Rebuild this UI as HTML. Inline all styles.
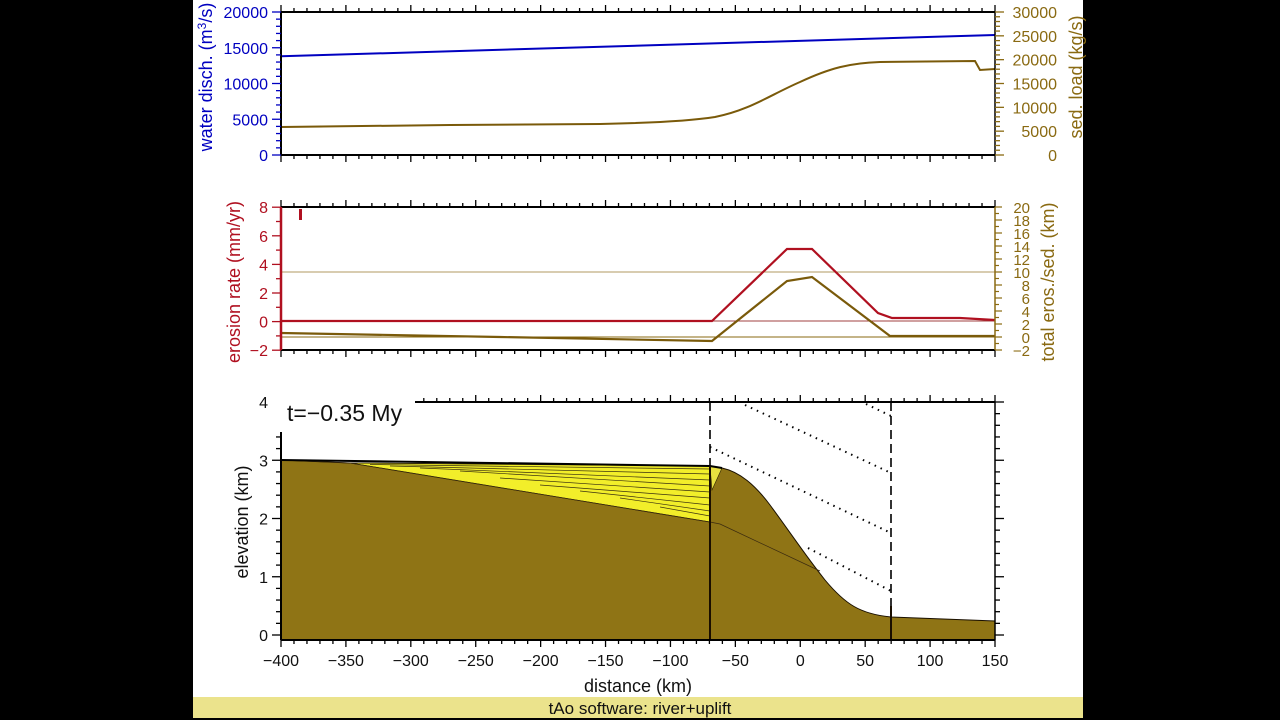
<!DOCTYPE html>
<html><head><meta charset="utf-8"><style>
html,body{margin:0;padding:0;background:#000;width:1280px;height:720px;overflow:hidden}
svg{display:block}
text{font-family:"Liberation Sans",sans-serif}
</style></head><body>
<svg id="s" width="1280" height="720" xmlns="http://www.w3.org/2000/svg">
<rect x="0" y="0" width="1280" height="720" fill="#000"/>
<rect x="193" y="0" width="890" height="697" fill="#fff"/>
<rect x="193" y="697" width="890" height="21" fill="#ebe38c"/>
<text x="640" y="714" font-size="17" text-anchor="middle" fill="#111">tAo software: river+uplift</text>

<!-- bottom panel terrain -->
<path d="M281,460 L350,463 L710,466 L722,468 C740,472 755,485 770,505 C790,532 805,555 825,580 C845,604 860,614 891,617 L995,621 L995,640 L281,640 Z" fill="#8f7415" stroke="#1a1000" stroke-width="1"/>
<path d="M350,463 L710,466 L710,522 Z" fill="#f2ee2a" stroke="#2a2000" stroke-width="0.8"/>
<path d="M710,466 L722,468 L712,490 Z" fill="#e8e040" stroke="#2a2000" stroke-width="0.6"/>
<g stroke="#3a3010" stroke-width="0.7" fill="none">
<path d="M370,464.5 L710,469"/><path d="M390,466 L710,474"/><path d="M420,468 L710,480"/><path d="M460,471 L710,486"/><path d="M500,478 L710,492"/><path d="M540,485 L710,498"/><path d="M580,491 L710,505"/><path d="M620,498 L710,511"/><path d="M660,507 L710,516"/>
<path d="M281,460 L350,463 L710,522 L720,524 L820,571" stroke="#3a2a10"/>
</g>
<path d="M281,460 L710,466 L722,468" stroke="#000" stroke-width="2" fill="none"/>
<line x1="710" y1="466" x2="710" y2="640" stroke="#1a0e00" stroke-width="2"/>
<line x1="891" y1="606" x2="891" y2="640" stroke="#1a0e00" stroke-width="2"/>
<g stroke="#000" stroke-width="1.6" stroke-dasharray="9,5" fill="none">
<line x1="710" y1="402" x2="710" y2="466"/><line x1="891" y1="402" x2="891" y2="606"/>
</g>
<g stroke="#000" stroke-width="2" stroke-dasharray="1.5,5" fill="none">
<line x1="745" y1="405" x2="891" y2="473"/><line x1="710" y1="447" x2="891" y2="533"/>
<line x1="808" y1="548" x2="891" y2="591"/><line x1="866" y1="404" x2="891" y2="416"/>
</g>
<rect x="278" y="390" width="138" height="40" fill="#fff"/>
<text x="287" y="421" font-size="23" fill="#111">t=−0.35 My</text>

<!-- top panel series -->
<line x1="281" y1="56.3" x2="995" y2="35" stroke="#0000c0" stroke-width="2"/>
<path d="M281,127 L450,125 L600,124 C650,123 690,121 715,117 C750,110 770,95 800,82 C830,68 850,63 880,62 L975,61 L980,70 L995,69" stroke="#7a5a0a" stroke-width="2" fill="none"/>

<!-- middle panel series -->
<line x1="281" y1="272" x2="995" y2="272" stroke="#b09a60" stroke-width="1"/>
<line x1="281" y1="321" x2="995" y2="321" stroke="#a04040" stroke-width="1"/>
<line x1="281" y1="337" x2="995" y2="337" stroke="#8a6a12" stroke-width="1"/>
<path d="M281,321 L712,321 L787,249 L812,249 L878,313 L892,318 L960,318 L995,320" stroke="#b01020" stroke-width="2.2" fill="none"/>
<path d="M281,333 L500,337 L712,341 L787,281 L812,277 L890,336 L995,336" stroke="#7a5a0a" stroke-width="2.2" fill="none"/>
<rect x="299" y="209" width="3" height="11" fill="#b01020"/>

<g id="ax"></g>

<text transform="translate(212,77) rotate(-90)" font-size="18" text-anchor="middle" fill="#0000c0">water disch. (m<tspan font-size="12" dy="-6">3</tspan><tspan dy="6">/s)</tspan></text>
<text transform="translate(1082,77) rotate(-90)" font-size="18" text-anchor="middle" fill="#8a6a12">sed. load (kg/s)</text>
<text transform="translate(240,282) rotate(-90)" font-size="18" text-anchor="middle" fill="#b01020">erosion rate (mm/yr)</text>
<text transform="translate(1054,282) rotate(-90)" font-size="18" text-anchor="middle" fill="#8a6a12">total eros./sed. (km)</text>
<text transform="translate(248,522) rotate(-90)" font-size="18" text-anchor="middle" fill="#111">elevation (km)</text>
<text x="638" y="692" font-size="18" text-anchor="middle" fill="#111">distance (km)</text>
</svg>
<script>
var g=document.getElementById('ax'),h='';
function L(x1,y1,x2,y2,c,w){h+='<line x1="'+x1+'" y1="'+y1+'" x2="'+x2+'" y2="'+y2+'" stroke="'+c+'" stroke-width="'+(w||1.5)+'"/>';}
function T(x,y,t,c,a,s){h+='<text x="'+x+'" y="'+y+'" font-size="'+(s||16)+'" fill="'+c+'" text-anchor="'+a+'">'+t+'</text>';}
var X=function(d){return 281+(d+400)*714/550;};
function xt(y,dir,lab){for(var d=-400;d<=150;d+=10){var m=d%50==0;L(X(d),y,X(d),y+dir*(m?7:4),'#000',1.3);if(lab&&m)T(X(d),y+26,String(d).replace('-','−'),'#111','middle',16);}}
// top panel
L(281,12,995,12,'#000',2);L(281,155,995,155,'#000',2);
L(281,12,281,155,'#000',2);L(995,12,995,155,'#000',1.5);
xt(12,-1);xt(155,1);
for(var v=0;v<=20000;v+=1000){var y=155-v/20000*143;var m=v%5000==0;L(281,y,281-(m?9:5),y,'#0000c0',1.3);if(m)T(268,y+6,v,'#0000c0','end',16);}
for(var v=0;v<=30000;v+=1000){var y=155-v/30000*143;var m=v%5000==0;L(995,y,995+(m?9:5),y,'#8a6a12',1.3);if(m)T(1057,y+6,v,'#8a6a12','end',16);}
// middle panel
L(281,207,995,207,'#000',2);L(281,350,995,350,'#000',2);L(281,207,281,350,'#b01020',2.5);L(995,207,995,350,'#8a6a12',1.5);
xt(207,-1);xt(350,1);
for(var v=-2;v<=8;v+=1){var y=321.6-v*14.3;var m=v%2==0;L(281,y,281-(m?9:5),y,'#b01020',1.3);if(m)T(268,y+6,String(v).replace('-','−'),'#b01020','end',16);}
for(var v=-2;v<=20;v+=1){var y=337-v*6.5;var m=v%2==0;L(995,y,995+(m?7:4),y,'#8a6a12',1.2);if(m)T(1030,y+6,String(v).replace('-','−'),'#8a6a12','end',15);}
// bottom panel
L(415,402,995,402,'#000',2);L(281,640,995,640,'#000',2);L(281,432,281,640,'#000',2);L(995,402,995,640,'#000',1.5);
for(var d=-400;d<=150;d+=10){if(X(d)>415){var m=d%50==0;L(X(d),402,X(d),402-(m?7:4),'#000',1.3);}}
xt(640,1,true);
for(var i=0;i<=20;i++){var v=i*0.2,y=635-v*58.25;var m=i%5==0;if(y>=430)L(281,y,281-(m?9:5),y,'#000',1.3);L(995,y,995+(m?9:5),y,'#000',1.3);if(m)T(268,y+6,v,'#111','end',16);}
g.innerHTML=h;
</script>
</body></html>
